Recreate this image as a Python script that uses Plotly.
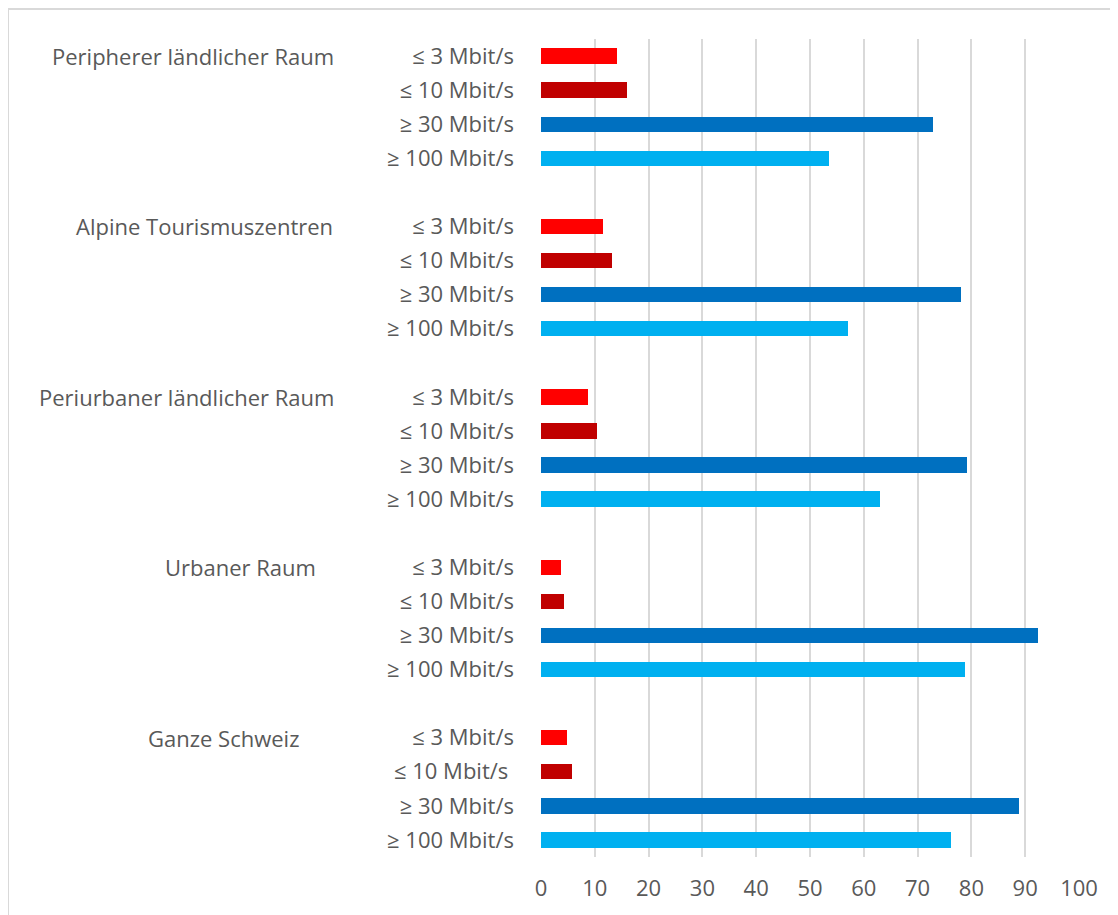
import plotly.graph_objects as go

groups = [
    "Peripherer ländlicher Raum",
    "Alpine Tourismuszentren",
    "Periurbaner ländlicher Raum",
    "Urbaner Raum",
    "Ganze Schweiz",
]
speeds = ["≤ 3 Mbit/s", "≤ 10 Mbit/s", "≥ 30 Mbit/s", "≥ 100 Mbit/s"]

# share of households (%) per region and speed class
le3 = [14.2, 11.6, 8.7, 3.8, 4.9]
le10 = [16.0, 13.2, 10.4, 4.2, 5.8]
ge30 = [72.9, 78.1, 79.1, 92.4, 88.9]
ge100 = [53.6, 57.0, 63.0, 78.9, 76.2]

x_ticks = [0, 10, 20, 30, 40, 50, 60, 70, 80, 90, 100]

series = [le3, le10, ge30, ge100]
colors = ["#FF0000", "#C00000", "#0070C0", "#00B0F0"]

# page has an 8px body margin, so the figure is shifted by (8, 8)
W, H = 1110, 907
L, R, T, B = 533, 39, 31, 58
pw, ph = W - L - R, H - T - B

# 5 slots per group (4 bars + 1 blank row), on a reversed y axis
slot = 5
fig = go.Figure()
for i, (name, vals, col) in enumerate(zip(speeds, series, colors)):
    fig.add_trace(go.Bar(
        x=vals,
        y=[g * slot + i for g in range(len(groups))],
        orientation="h",
        name=name,
        marker=dict(color=col, line=dict(width=0)),
        width=0.45,
    ))

tickvals = [g * slot + i for g in range(len(groups)) for i in range(len(speeds))]
ticktext = [s for g in range(len(groups)) for s in speeds]
# the original has a trailing space on this one
ticktext[-3] = ticktext[-3] + "\u00a0"

font = "'Open Sans', sans-serif"
gray = "#595959"
fsize = 22

fig.update_yaxes(
    tickvals=tickvals,
    ticktext=ticktext,
    range=[len(groups) * slot - 1.5, -0.5],
    showgrid=False,
    zeroline=False,
    ticks="",
    ticklabelstandoff=26,
    tickfont=dict(family=font, size=fsize, color=gray),
)
fig.update_xaxes(
    range=[0, 100],
    tickvals=x_ticks,
    showgrid=True,
    gridcolor="#D9D9D9",
    gridwidth=2,
    zeroline=False,
    ticks="",
    ticklabelstandoff=16,
    tickfont=dict(family=font, size=fsize, color=gray),
)

# group labels, right edges as in the original (page px)
label_right = [336, 335, 336, 318, 301]
annotations = []
for g, (name, rx) in enumerate(zip(groups, label_right)):
    annotations.append(dict(
        text=name,
        x=(rx - 8 - L) / pw,
        xref="paper",
        y=g * slot,
        yref="y",
        xanchor="right",
        yanchor="middle",
        showarrow=False,
        font=dict(family=font, size=fsize, color=gray),
    ))

fig.update_layout(
    width=W,
    height=H,
    margin=dict(l=L, r=R, t=T, b=B),
    plot_bgcolor="white",
    paper_bgcolor="white",
    showlegend=False,
    bargap=0,
    annotations=annotations,
    shapes=[dict(
        type="rect",
        xref="paper", yref="paper",
        x0=-(L - 0) / pw, x1=(W + 10 - L) / pw,
        y0=-(B + 10) / ph, y1=(ph + T - 1) / ph,
        line=dict(color="#D9D9D9", width=2),
        layer="below",
    )],
)

fig.write_html("out.html")
